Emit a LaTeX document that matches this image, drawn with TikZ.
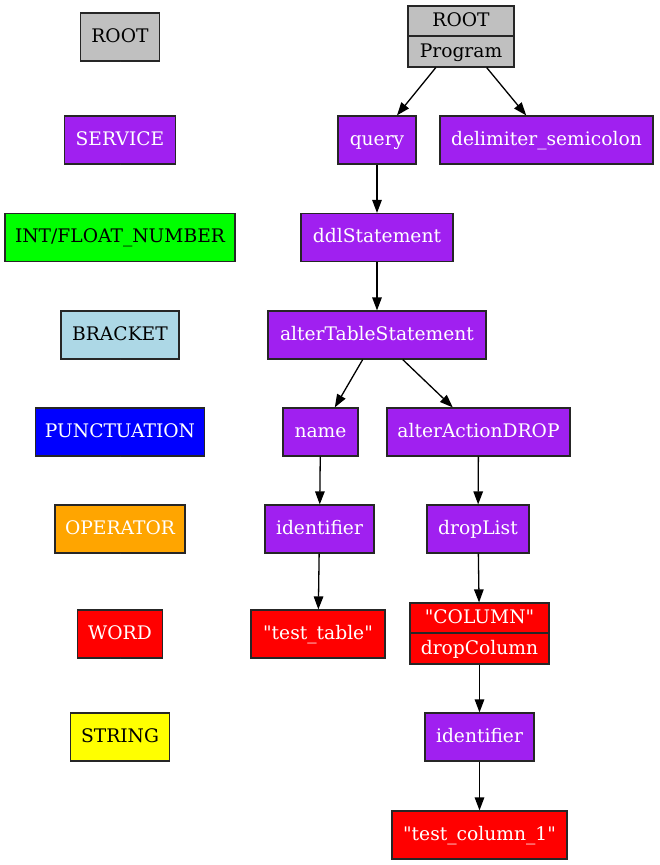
\documentclass[tikz,border=0pt]{standalone}
\usepackage{fontspec}
\setmainfont{DejaVu Serif}[Ligatures=TeXOff]
\usetikzlibrary{arrows.meta}
\definecolor{gvpurple}{HTML}{A020F0}
\definecolor{gvgray}{HTML}{C0C0C0}
\definecolor{gvgreen}{HTML}{00FF00}
\definecolor{gvlblue}{HTML}{ADD8E6}
\definecolor{gvblue}{HTML}{0000FF}
\definecolor{gvorange}{HTML}{FFA500}
\definecolor{gvred}{HTML}{FF0000}
\definecolor{gvyellow}{HTML}{FFFF00}
\begin{document}
\begin{tikzpicture}[x=1pt,y=1pt,
  txt/.style={inner sep=0pt, font=\fontsize{18.67}{22}\selectfont, text height=13.6pt, text depth=3pt},
  box/.style={txt, draw=black!85, line width=1.2pt, minimum height=48pt},
  pbox/.style={box, fill=gvpurple, text=white},
  rbox/.style={box, fill=gvred, text=white},
  gbox/.style={box, fill=gvgray, text=black},
  arr/.style={-{Triangle[length=13pt,width=9.5pt]}, line width=1.3pt, black},
  legedge/.style={white, line width=1.2pt}]
\useasboundingbox (0,0) rectangle (659,-865);
\fill[white] (0,0) rectangle (659,-865);

% legend
\node[gbox, minimum width=79pt] (lroot) at (120,-37) {ROOT};
\node[pbox, minimum width=111pt] (lservice) at (120,-140) {SERVICE};
\node[box, fill=gvgreen, minimum width=230pt] (lnumber) at (120,-237.5) {INT/FLOAT\_NUMBER};
\node[box, fill=gvlblue, minimum width=118pt] (lbracket) at (120,-335) {BRACKET};
\node[box, fill=gvblue, text=white, minimum width=169pt] (lpunct) at (120,-432) {PUNCTUATION};
\node[box, fill=gvorange, text=white, minimum width=130pt] (loperator) at (120,-529) {OPERATOR};
\node[rbox, minimum width=85pt] (lword) at (120,-634) {WORD};
\node[box, fill=gvyellow, minimum width=99pt] (lstring) at (120,-737) {STRING};
\draw[legedge] (lroot) -- (lservice);
\draw[legedge] (lservice) -- (lnumber);
\draw[legedge] (lnumber) -- (lbracket);
\draw[legedge] (lbracket) -- (lpunct);
\draw[legedge] (lpunct) -- (loperator);
\draw[legedge] (loperator) -- (lword);
\draw[legedge] (lword) -- (lstring);

% tree
\node[gbox, minimum width=106pt, minimum height=61pt] (root) at (461,-36.5) {};
\draw[line width=1.2pt, black!85] ([yshift=-30.5pt]root.north west) -- ([yshift=-30.5pt]root.north east);
\node[txt] (rootA) at ([yshift=-15.5pt]root.north) {ROOT};
\node[txt] (rootB) at ([yshift=15.5pt]root.south) {Program};

\node[pbox, minimum width=78pt] (query) at (377,-140) {query};
\node[pbox, minimum width=213pt] (delim) at (546.5,-140) {delimiter\_semicolon};
\node[pbox, minimum width=152pt] (ddl) at (377,-237.5) {ddlStatement};
\node[pbox, minimum width=218pt] (alter) at (377,-335) {alterTableStatement};
\node[pbox, minimum width=75pt] (name) at (320.5,-432) {name};
\node[pbox, minimum width=183pt] (drop) at (478.5,-432) {alterActionDROP};
\node[pbox, minimum width=109pt] (ident1) at (319.5,-529) {identifier};
\node[pbox, minimum width=102pt] (droplist) at (478,-529) {dropList};
\node[rbox, minimum width=134pt] (table) at (318,-634) {"test\_table"};
\node[rbox, minimum width=139pt, minimum height=61pt] (col) at (479.5,-633.5) {};
\draw[line width=1.2pt, black!85] ([yshift=-30.5pt]col.north west) -- ([yshift=-30.5pt]col.north east);
\node[txt, text=white] (colA) at ([yshift=-15.5pt]col.north) {"COLUMN"};
\node[txt, text=white] (colB) at ([yshift=15.5pt]col.south) {dropColumn};
\node[pbox, minimum width=109pt] (ident2) at (479.5,-737) {identifier};
\node[rbox, minimum width=175pt] (colname) at (479.5,-835) {"test\_column\_1"};

\draw[arr] (root) -- (query);
\draw[arr] (root) -- (delim);
\draw[arr] (query) -- (ddl);
\draw[arr] (ddl) -- (alter);
\draw[arr] (alter) -- (name);
\draw[arr] (alter) -- (drop);
\draw[arr] (name) -- (ident1);
\draw[arr] (ident1) -- (table);
\draw[arr] (drop) -- (droplist);
\draw[arr] (droplist) -- (col);
\draw[arr] (col) -- (ident2);
\draw[arr] (ident2) -- (colname);
\end{tikzpicture}
\end{document}
